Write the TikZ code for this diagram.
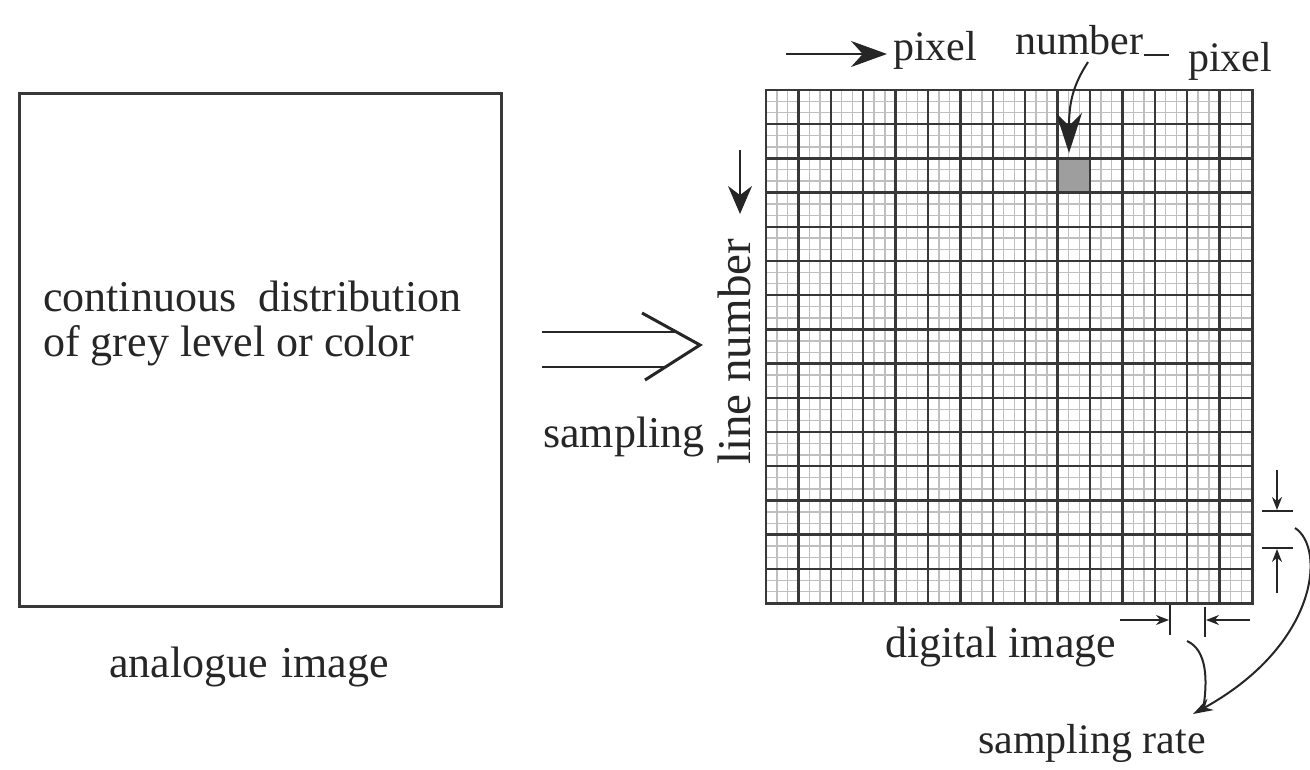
\documentclass[tikz,border=0pt]{standalone}
\usepackage{fontspec}
\setmainfont{Liberation Serif}
\usetikzlibrary{arrows.meta}
\begin{document}
\begin{tikzpicture}[x=1pt,y=-1pt,
  lbl/.style={inner sep=0pt, font=\fontsize{44}{44}\selectfont, text=black!85},
  lblsm/.style={inner sep=0pt, font=\fontsize{42}{42}\selectfont, text=black!85},
  frame/.style={draw=black!78, line width=2.6pt},
  major/.style={draw=black!78, line width=2.4pt},
  minor/.style={draw=black!25, line width=1.4pt},
  ln/.style={draw=black!85, line width=2pt},
  thin/.style={draw=black!85, line width=1.5pt},
  smalltip/.style={-{Stealth[length=13pt,width=10pt]}}]
\useasboundingbox (0,0) rectangle (1310,770);

% ---------- analogue image ----------
\node[frame, minimum width=482pt, minimum height=513pt, inner sep=0pt, anchor=north west] (analog) at (18,92) {};
\node[lbl, anchor=base west] (t1) at (43,312) {continuous\hspace{0.5em}distribution};
\node[lbl, anchor=base west] (t2) at (43,356) {of grey level or color};
\node[lbl, anchor=base] (alab) at (249,677) {analogue\hspace{0.3em}image};

% ---------- sampling double arrow ----------
\coordinate (a1s) at (542,332); \coordinate (a1e) at (676,332);
\coordinate (a2s) at (542,367); \coordinate (a2e) at (665,367);
\coordinate (chT) at (642,313); \coordinate (chM) at (700,345); \coordinate (chB) at (645,380);
\draw[ln, line width=2.6pt] (a1s) -- (a1e);
\draw[ln, line width=2.6pt] (a2s) -- (a2e);
\draw[ln, line width=3pt, line join=miter] (chT) -- (chM) -- (chB);
\node[lbl, anchor=base west] (samp) at (543,447) {sampling};

% ---------- digital image grid ----------
\node[minimum width=486pt, minimum height=513pt, inner sep=0pt, anchor=north west] (grid) at (766,90) {};
\foreach \i in {0,...,14} {
  \foreach \j in {1,2} {
    \draw[minor] ({766+\i*32.4+\j*10.8},90) -- ({766+\i*32.4+\j*10.8},603);
    \draw[minor] (766,{90+\i*34.2+\j*11.4}) -- (1252,{90+\i*34.2+\j*11.4});
  }
}
\node[fill=black!38, minimum width=32.4pt, minimum height=34.2pt, inner sep=0pt, anchor=north west] (pix) at ({766+9*32.4},{90+2*34.2}) {};
\foreach \i in {0,...,15} {
  \draw[major] ({766+\i*32.4},90) -- ({766+\i*32.4},603);
  \draw[major] (766,{90+\i*34.2}) -- (1252,{90+\i*34.2});
}
\draw[frame] (grid.north west) rectangle (grid.south east);

% line number + arrow
\node[lbl, font=\fontsize{47}{47}\selectfont, rotate=90, anchor=base west] (lnum) at (750,465) {line number};
\coordinate (dA) at (740,150); \coordinate (dB) at (740,214);
\draw[ln, -{Stealth[length=28pt,width=24pt]}] (dA) -- (dB);

% pixel number + arrow
\node[lblsm, anchor=base west] (pxl) at (893,61) {pixel};
\node[lblsm, anchor=base west] (num) at (1015,55) {number};
\coordinate (tA) at (786,54);
\coordinate (tB) at (887,54);
\draw[ln, -{Stealth[length=36pt,width=26pt]}] (tA) -- (tB);
\coordinate (ulE) at (1169,55);
\draw[ln] (num.base east) -- (ulE);

% pixel label + curved pointer
\node[lblsm, anchor=base west] (pxr) at (1188,72) {pixel};
\coordinate (cS) at (1088,62);
\coordinate (cT) at (1069,153);
\draw[ln, -{Stealth[length=40pt,width=26pt]}] (cS) .. controls (1074,84) and (1069,100) .. (cT);

% ---------- sampling rate markers ----------
\coordinate (vb1L) at (1262,511); \coordinate (vb1R) at (1293,511);
\coordinate (vb2L) at (1262,548); \coordinate (vb2R) at (1293,548);
\coordinate (va1s) at (1277,470); \coordinate (va1e) at (1277,510);
\coordinate (va2s) at (1277,593); \coordinate (va2e) at (1277,549);
\draw[thin] (vb1L) -- (vb1R);
\draw[thin] (vb2L) -- (vb2R);
\draw[thin, smalltip] (va1s) -- (va1e);
\draw[thin, smalltip] (va2s) -- (va2e);

\coordinate (hb1T) at (1170,605); \coordinate (hb1B) at (1170,635);
\coordinate (hb2T) at (1205,607); \coordinate (hb2B) at (1205,637);
\coordinate (ha1s) at (1120,620); \coordinate (ha1e) at (1169,620);
\coordinate (ha2s) at (1250,620); \coordinate (ha2e) at (1206,620);
\draw[thin] (hb1T) -- (hb1B);
\draw[thin] (hb2T) -- (hb2B);
\draw[thin, smalltip] (ha1s) -- (ha1e);
\draw[thin, smalltip] (ha2s) -- (ha2e);

\node[lbl, anchor=base west] (dlab) at (885,657) {digital image};
\node[lblsm, anchor=base west] (srate) at (978,753) {sampling rate};

\coordinate (bcS) at (1295,528);
\coordinate (bcE) at (1193,714);
\draw[ln, -{Stealth[length=20pt,width=13pt]}] (bcS) .. controls (1326,548) and (1318,645) .. (bcE);
\coordinate (brS) at (1187,641);
\coordinate (brE) at (1203,710);
\draw[ln] (brS) .. controls (1207,650) and (1208,680) .. (brE);
\end{tikzpicture}
\end{document}
